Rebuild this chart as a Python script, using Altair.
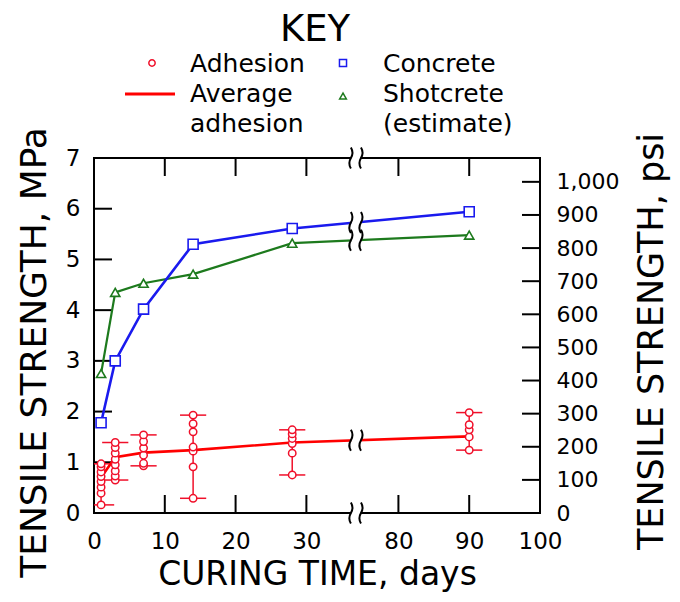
import altair as alt
import pandas as pd
import numpy as np

# ---------------- data ----------------
days = [1, 3, 7, 14, 28, 90]
concrete = [1.78, 3.0, 4.02, 5.3, 5.61, 5.94]
shotcrete = [2.75, 4.35, 4.53, 4.71, 5.32, 5.48]
avg_adhesion = [0.7, 1.1, 1.19, 1.24, 1.39, 1.51]
adhesion_day1 = [0.16, 0.39, 0.51, 0.62, 0.72, 0.81, 0.91, 0.97]
adhesion_day3 = [0.65, 0.73, 0.83, 0.95, 1.06, 1.18, 1.29, 1.39]
adhesion_day7 = [0.93, 0.98, 1.14, 1.28, 1.41, 1.54]
adhesion_day14 = [0.29, 0.91, 1.22, 1.30, 1.60, 1.76, 1.93]
adhesion_day28 = [0.75, 1.18, 1.37, 1.47, 1.56, 1.64]
adhesion_day90 = [1.24, 1.50, 1.64, 1.74, 1.98]

x_tick_days = [0, 10, 20, 30, 80, 90, 100]
mpa_ticks = [0, 1, 2, 3, 4, 5, 6, 7]
psi_ticks = [0, 100, 200, 300, 400, 500, 600, 700, 800, 900, 1000]
psi_max = 1072

legend_title = "KEY"
legend_col1 = ["Adhesion", "Average", "adhesion"]
legend_col2 = ["Concrete", "Shotcrete", "(estimate)"]

# ---------------- broken axis helpers ----------------
BREAK = 37  # axis break position (in axis units)
GAP = 37    # days cut out of the axis


def to_u(d):
    return d if d <= BREAK else d - GAP


RED = "#f0102a"
LRED = "#ff0000"
BLUE = "#1a1aee"
GREEN = "#1d7a1d"
FONT = "DejaVu Sans"
W, H = 446, 355

main_df = pd.DataFrame({
    "u": [to_u(d) for d in days],
    "day": days,
    "Concrete": concrete,
    "Shotcrete": shotcrete,
    "Average": avg_adhesion,
})

adh_lists = [adhesion_day1, adhesion_day3, adhesion_day7,
             adhesion_day14, adhesion_day28, adhesion_day90]
adh_rows = []
bar_rows = []
for d, vals in zip(days, adh_lists):
    for v in vals:
        adh_rows.append({"u": to_u(d), "mpa": v})
    bar_rows.append({"u": to_u(d), "lo": min(vals), "hi": max(vals)})
adh_df = pd.DataFrame(adh_rows)
bar_df = pd.DataFrame(bar_rows)
CAP = 1.85  # half-width of cap in axis units


def interp_break(series):
    us = [to_u(d) for d in days]
    return float(np.interp(BREAK, us, series))

brk_df = pd.DataFrame({
    "u": [BREAK] * 3,
    "mpa": [interp_break(concrete), interp_break(shotcrete), interp_break(avg_adhesion)],
})

X_AXIS = alt.Axis(values=[to_u(d) for d in x_tick_days],
                  labelExpr=f"datum.value > {BREAK} ? datum.value + {GAP} : datum.value",
                  tickSize=0, domain=False, grid=False, labelFlush=False,
                  labelFontSize=23, labelPadding=17, labelColor="black",
                  title="CURING TIME, days", titleFontSize=33,
                  titleFontWeight="normal", titleColor="black", titlePadding=5)
X_SCALE = alt.Scale(domain=[0, 63], nice=False)


def mkX(field):
    return alt.X(f"{field}:Q", scale=X_SCALE, axis=X_AXIS)

X = mkX("u")

Y = alt.Y("mpa:Q", scale=alt.Scale(domain=[0, 7], nice=False),
          axis=alt.Axis(values=mpa_ticks, tickSize=0, domain=False, grid=False,
                        labelFontSize=23, labelPadding=14, labelColor="black",
                        labelFlush=False,
                        title="TENSILE STRENGTH, MPa", titleFontSize=36,
                        titleFontWeight="normal", titleColor="black",
                        titlePadding=12, titleY=194))


def series_layer(col, color, width, shape, size):
    base = alt.Chart(main_df).transform_calculate(mpa=f"datum['{col}']")
    line = base.mark_line(color=color, strokeWidth=width).encode(x=X, y=Y)
    pts = base.mark_point(shape=shape, size=size, filled=True, fill="white",
                          stroke=color, strokeWidth=1.6, opacity=1).encode(x=X, y=Y)
    return line, pts

c_line, c_pts = series_layer("Concrete", BLUE, 2.6, "square", 100)
s_line, s_pts = series_layer("Shotcrete", GREEN, 2.2, "triangle-up", 85)
avg_line = alt.Chart(main_df).transform_calculate(mpa="datum.Average").mark_line(
    color=LRED, strokeWidth=2.6).encode(x=X, y=Y)

bars = alt.Chart(bar_df).transform_calculate(mpa="datum.lo").mark_rule(
    color=RED, strokeWidth=1.5).encode(x=X, y=Y, y2="hi:Q")


def caps(col):
    return alt.Chart(bar_df).transform_calculate(
        mpa=f"datum.{col}", u1=f"datum.u - {CAP}", u2=f"datum.u + {CAP}").mark_rule(
        color=RED, strokeWidth=1.5, clip=True).encode(x=mkX("u1"), x2="u2:Q", y=Y)

caps_lo = caps("lo")
caps_hi = caps("hi")
adh_pts = alt.Chart(adh_df).mark_point(shape="circle", size=55, filled=True, fill="white",
                                        stroke=RED, strokeWidth=1.5, opacity=1).encode(x=X, y=Y)

# inward ticks
xt_df = pd.DataFrame({"u": [to_u(d) for d in x_tick_days[1:-1]]})
yt_df = pd.DataFrame({"mpa": mpa_ticks[1:-1]})
bot_ticks = alt.Chart(xt_df).mark_rule(color="black", strokeWidth=2).encode(
    x=X, y=alt.value(H), y2=alt.value(H - 18))
top_ticks = alt.Chart(xt_df).mark_rule(color="black", strokeWidth=2).encode(
    x=X, y=alt.value(0), y2=alt.value(18))
left_ticks = alt.Chart(yt_df).mark_rule(color="black", strokeWidth=2).encode(
    y=Y, x=alt.value(0), x2=alt.value(18))

# break symbols
SQUIG = ("M -0.48,-1 Q -0.18,-0.5 -0.48,0 T -0.48,1 "
         "M 0.48,-1 Q 0.78,-0.5 0.48,0 T 0.48,1")
GAPRECT = "M -0.45,-0.33 L 0.45,-0.33 L 0.45,0.33 L -0.45,0.33 Z"
brk_u = pd.DataFrame({"u": [BREAK]})


def break_marks(df, yenc):
    white = alt.Chart(df).mark_point(shape=GAPRECT, size=441, filled=True,
                                     color="white", opacity=1, strokeWidth=0).encode(x=X, y=yenc)
    sq = alt.Chart(df).mark_point(shape=SQUIG, size=441, filled=False, color="black",
                                  strokeWidth=2, opacity=1).encode(x=X, y=yenc)
    return [white, sq]

brk_layers = (break_marks(brk_df, Y) + break_marks(brk_u, alt.value(0))
              + break_marks(brk_u, alt.value(H)))

# legend (manual)
one = alt.Data(values=[{"k": 1}])


def txt(s, x, y, size=25, align="left"):
    return alt.Chart(one).mark_text(text=s, align=align, baseline="alphabetic",
                                    fontSize=size, font=FONT, color="black").encode(
        x=alt.value(x), y=alt.value(y))

leg = [txt(legend_title, 221, -117, 37, "center")]
for i, s in enumerate(legend_col1):
    leg.append(txt(s, 96, -86 + 30 * i))
for i, s in enumerate(legend_col2):
    leg.append(txt(s, 289, -86 + 30 * i))
leg.append(alt.Chart(one).mark_point(shape="circle", size=40, filled=False, color=RED,
                                     strokeWidth=1.5, opacity=1).encode(
    x=alt.value(58), y=alt.value(-95)))
leg.append(alt.Chart(one).mark_point(shape="square", size=50, filled=False, color=BLUE,
                                     strokeWidth=1.5, opacity=1).encode(
    x=alt.value(249), y=alt.value(-95)))
leg.append(alt.Chart(one).mark_point(shape="triangle-up", size=45, filled=False, color=GREEN,
                                     strokeWidth=1.5, opacity=1).encode(
    x=alt.value(249), y=alt.value(-62)))
leg.append(alt.Chart(one).mark_rule(color=LRED, strokeWidth=3).encode(
    x=alt.value(31), x2=alt.value(81), y=alt.value(-64)))

inner = alt.layer(
    bot_ticks, top_ticks, left_ticks,
    bars, caps_lo, caps_hi, avg_line, adh_pts,
    s_line, c_line, s_pts, c_pts,
    *brk_layers, *leg,
)

# right axis (psi) with inward ticks
psi_df = pd.DataFrame({"psi": psi_ticks[1:]})
right = alt.Chart(psi_df).mark_rule(color="black", strokeWidth=2).encode(
    y=alt.Y("psi:Q", scale=alt.Scale(domain=[0, psi_max], nice=False),
            axis=alt.Axis(orient="right", values=psi_ticks,
                          labelExpr="format(datum.value, ',d')", tickSize=0,
                          domain=False, grid=False, labelFontSize=22, labelPadding=16,
                          labelFlush=False,
                          labelColor="black", title="TENSILE STRENGTH, psi",
                          titleFontSize=35, titleFontWeight="normal", titleColor="black",
                          titleAngle=270, titleY=183, titleX=122,
                          titleBaseline="alphabetic")),
    x=alt.value(W), x2=alt.value(W - 18))

chart = alt.layer(inner, right).resolve_scale(y="independent").properties(
    width=W, height=H,
    autosize=alt.AutoSizeParams(type="none"),
    padding={"left": 86, "top": 150, "right": 132, "bottom": 81},
).configure(font=FONT).configure_view(stroke="black", strokeWidth=2)

chart.save("out.html", embed_options={"renderer": "svg", "actions": False})
